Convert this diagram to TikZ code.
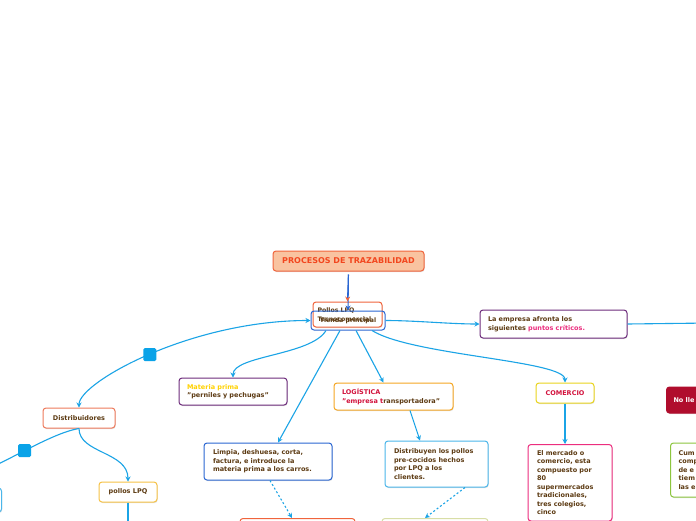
\documentclass[tikz,border=0pt]{standalone}
\usepackage{fontspec}
\setmainfont{DejaVu Sans}
\usepackage{xcolor}
\usepackage{tikz}
\usetikzlibrary{arrows.meta,shadows}
\definecolor{MAPbrown}{HTML}{5C3A12}
\definecolor{MAPline}{HTML}{1BA4E6}
\definecolor{MAPsquare}{HTML}{0AA3E8}
\definecolor{MAPtitlefill}{HTML}{F9C3A0}
\definecolor{MAPtitletext}{HTML}{F2461E}
\definecolor{MAPorange}{HTML}{F0643C}
\definecolor{MAPblue}{HTML}{2A66D2}
\definecolor{MAPpurple}{HTML}{6E2C7C}
\definecolor{MAPyellow}{HTML}{FFD200}
\definecolor{MAPamber}{HTML}{F5A623}
\definecolor{MAPcrimson}{HTML}{D2113C}
\definecolor{MAPpink}{HTML}{EC2E7E}
\definecolor{MAPsky}{HTML}{4BB6EA}
\definecolor{MAPlemon}{HTML}{E9D41E}
\definecolor{MAPwine}{HTML}{B00D2D}
\definecolor{MAPgreen}{HTML}{8DC63F}
\definecolor{MAPsalmon}{HTML}{EE7A5C}
\definecolor{MAPgold}{HTML}{F6C246}
\definecolor{MAPolive}{HTML}{D8DEA6}

\tikzset{
  >={Stealth[length=5pt,width=5pt]},
  frame/.style={draw, rounded corners=3pt, line width=1pt, text=MAPbrown,
    font=\fontsize{6.5}{8.5}\selectfont\bfseries, inner ysep=0pt, inner xsep=8pt, align=left},
  topic/.style={frame, fill=white,
    drop shadow={opacity=0.25, shadow xshift=0.6pt, shadow yshift=-1pt}},
  conn/.style={MAPline, line width=1.1pt, ->},
  dotconn/.style={conn, dash pattern=on 2pt off 2.2pt},
  knob/.style={fill=MAPsquare, rounded corners=1.5pt, minimum size=13pt, inner sep=0pt}
}

\begin{document}
\begin{tikzpicture}[x=1pt,y=-1pt]
  \useasboundingbox (0,0) rectangle (696,520);
  \fill[white] (0,0) rectangle (696,520);
  \clip (0,0) rectangle (696,520);

  % central topic
  \node[topic, fill=MAPtitlefill, draw=MAPorange, text=MAPtitletext,
    font=\fontsize{8}{9}\selectfont\bfseries, minimum width=151pt,
    minimum height=20pt, inner xsep=0pt, align=center] (title) at (348.5,261)
    {PROCESOS DE TRAZABILIDAD};
  \node[topic, draw=MAPorange, text width=60pt, inner xsep=4.5pt, minimum height=25pt,
    font=\fontsize{6.2}{8.5}\selectfont\bfseries] (hubA) at (347.5,314.5)
    {Pollos LPQ\\Tecnocomercial};
  \node[frame, draw=MAPblue, minimum width=74pt, inner xsep=0pt, minimum height=19pt,
    font=\fontsize{6.2}{8.5}\selectfont\bfseries] (hubB) at (348,320.5)
    {Tienda principal};

  % main branches
  \node[topic, draw=MAPpurple, text width=131pt, minimum height=28pt] (empresa) at (553.5,324)
    {La empresa afronta los\\siguientes {\color{MAPpink}puntos críticos.}};
  \node[topic, draw=MAPpurple, text width=92pt, minimum height=27pt] (materia) at (233,391.5)
    {{\color{MAPyellow}Materia prima}\\"perniles y pechugas"};
  \node[topic, draw=MAPamber, text width=103pt, minimum height=27pt] (logistica) at (393.5,396.5)
    {{\color{MAPcrimson}LOGÍSTICA}\\{\color{MAPcrimson}"empresa t}ransportadora"};
  \node[topic, draw=MAPlemon, text=MAPcrimson, minimum width=58pt, minimum height=20pt,
    inner xsep=0pt, align=center] (comercio) at (565,393) {COMERCIO};
  \node[topic, draw=MAPsalmon, minimum width=72pt, minimum height=20pt,
    inner xsep=0pt, align=center] (distrib) at (79,418) {Distribuidores};

  % second level
  \node[topic, draw=MAPblue, text width=110pt, inner xsep=9pt, minimum height=37pt] (limpia) at (268,461.5)
    {Limpia, deshuesa, corta,\\factura, e introduce la\\materia prima a los carros.};
  \node[topic, draw=MAPsky, text width=85pt, inner xsep=9pt, minimum height=46pt] (distribuyen) at (436.5,464)
    {Distribuyen los pollos\\pre-cocidos hechos\\por LPQ a los\\clientes.};
  \node[topic, draw=MAPpink, text width=66pt, inner xsep=9pt, inner ysep=6pt, anchor=north] (mercado) at (570,444)
    {El mercado o\\comercio, esta\\compuesto por\\80\\supermercados\\tradicionales,\\tres colegios,\\cinco};
  \node[topic, draw=MAPgold, minimum width=58pt, minimum height=20pt,
    inner xsep=0pt, align=center] (pollos) at (128,492) {pollos LPQ};
  \node[topic, fill=MAPwine, draw=MAPwine, text=white, text width=86pt, inner xsep=7pt,
    minimum height=26pt, anchor=west] (nolle) at (666,400) {No lle};
  \node[topic, draw=MAPgreen, text width=84pt, inner xsep=8pt, minimum height=54pt,
    anchor=west] (cum) at (670,470) {Cum\\comp\\de e\\tiem\\las e};

  % boxes cut by the page edge
  \node[topic, draw=MAPsky, minimum width=60pt, minimum height=24pt, anchor=east] (leftbox) at (2,500) {};
  \node[topic, draw=MAPorange, minimum width=115pt, minimum height=30pt, inner xsep=0pt,
    anchor=north] (bottomA) at (297.5,518) {};
  \node[topic, draw=MAPolive, minimum width=106pt, minimum height=30pt, inner xsep=0pt,
    anchor=north] (bottomB) at (435,518) {};

  \coordinate (offleft) at (-30,475);
  \coordinate (pollosdown) at (128,530);
  \coordinate (empresaright) at (710,323);

  % connectors
  \draw[conn, MAPblue, shorten <=3pt] (title.south) -- (hubB.north);
  \draw[MAPblue, line width=1.1pt, shorten <=3pt, -{Stealth[length=5pt,width=5pt,color=MAPorange]}]
    (title.south) -- (hubA.north);
  \draw[conn] (hubB.east) .. controls +(30,0) and +(-30,0) .. (empresa.west);
  \draw[MAPline, line width=1.1pt] (empresa.east) -- (empresaright);
  \draw[conn, <->] (hubB.west) .. controls +(-120,0) and +(0,-25) .. (distrib.north)
    node[knob, pos=0.5] (knobA) {};
  \draw[conn] ([xshift=-22pt]hubB.south) .. controls +(-15,25) and +(0,-22) .. (materia.north);
  \draw[conn] ([xshift=-8pt]hubB.south) -- ([xshift=10pt]limpia.north);
  \draw[conn] ([xshift=8pt]hubB.south) -- ([xshift=-10pt]logistica.north);
  \draw[conn] ([xshift=24pt]hubB.south) .. controls +(40,25) and +(0,-22) .. (comercio.north);
  \draw[conn] ([xshift=16.5pt]logistica.south) -- ([xshift=-16.5pt]distribuyen.north);
  \draw[conn] (comercio.south) -- (comercio.south |- mercado.north);
  \draw[conn] (distrib.south) .. controls +(0,25) and +(0,-30) .. (pollos.north);
  \draw[conn] (distrib.south) .. controls +(-30,5) and +(30,-8) .. (offleft)
    node[knob, pos=0.5] (knobB) {};
  \draw[MAPline, line width=1.1pt] (pollos.south) -- (pollosdown);
  \draw[dotconn] ([xshift=2pt]limpia.south) -- ([xshift=-5.5pt]bottomA.north);
  \draw[dotconn] ([xshift=28.5pt]distribuyen.south) -- ([xshift=-10pt]bottomB.north);
\end{tikzpicture}
\end{document}
